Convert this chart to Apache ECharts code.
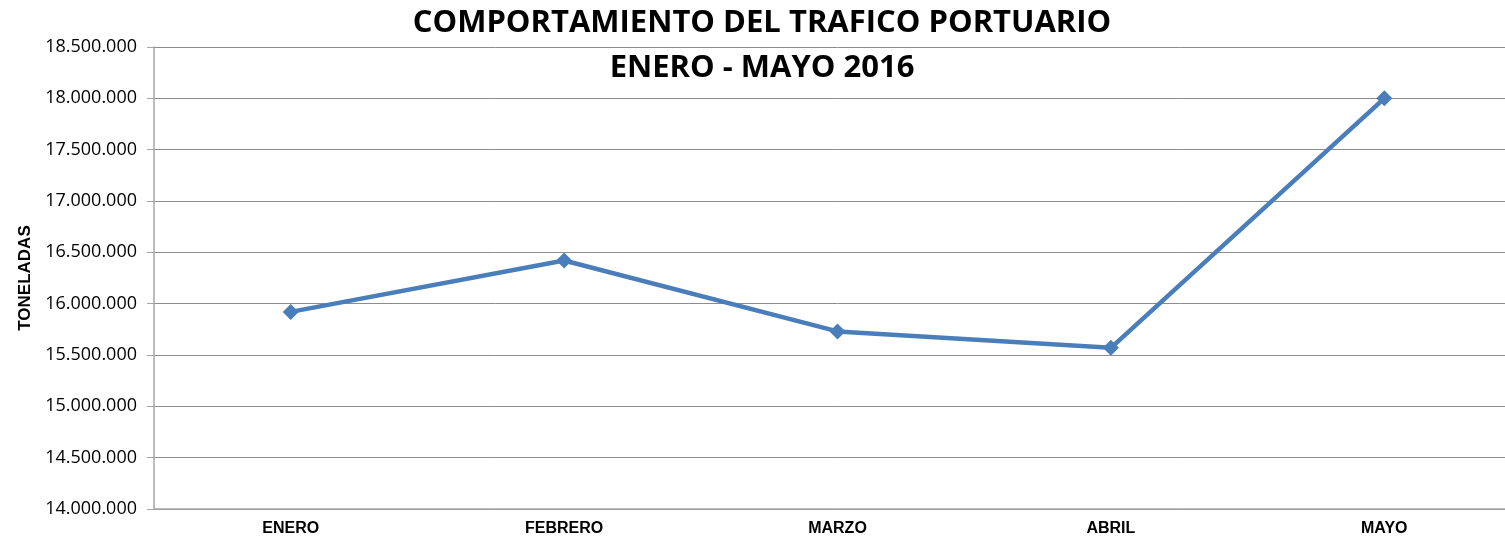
<!doctype html>
<html lang="es">
<head>
    <meta charset="UTF-8">
    <title>Trafico portuario</title>
    <style>
        *{margin: 0; padding: 0}
        body{background: #fff; overflow: hidden}
    </style>
</head>
<body>
<!-- el area del grafico sigue un poco mas alla del borde derecho, como en el original -->
<div id="block" style="width:1521px;height:540px"></div>
<script src="https://cdn.jsdelivr.net/npm/echarts@6/dist/echarts.min.js"></script>
<script>
    // datos
    const meses = ['ENERO', 'FEBRERO', 'MARZO', 'ABRIL', 'MAYO'];
    const toneladas = [15920000, 16420000, 15730000, 15570000, 18000000];

    const fmt = function(v) {
        return String(Math.round(v)).replace(/\B(?=(\d{3})+(?!\d))/g, '.');
    };

    const chart = echarts.init(document.getElementById('block'));
    chart.setOption({
        animation: false,
        title: {
            text: 'COMPORTAMIENTO DEL TRAFICO PORTUARIO\nENERO - MAYO 2016',
            left: 757, top: -4, textAlign: 'center',
            textStyle: {fontFamily: 'Open Sans', fontWeight: 'bold', fontSize: 31, lineHeight: 45, color: '#000'}
        },
        grid: {left: 154, top: 47, bottom: 31, right: 0},
        xAxis: {
            type: 'category',
            data: meses,
            axisLine: {lineStyle: {color: '#a6a6a6', width: 1.5}},
            axisTick: {show: false},
            axisLabel: {fontFamily: 'Liberation Sans', fontWeight: 'bold', fontSize: 16, color: '#000', margin: 12}
        },
        yAxis: {
            type: 'value',
            min: 14000000, max: 18500000, interval: 500000,
            name: 'TONELADAS', nameLocation: 'middle', nameGap: 118, nameRotate: 90,
            nameTextStyle: {fontFamily: 'Liberation Sans', fontWeight: 'bold', fontSize: 17, color: '#000'},
            axisLine: {show: true, lineStyle: {color: '#a6a6a6', width: 1.5}},
            axisTick: {show: true, length: 7, lineStyle: {color: '#a6a6a6'}},
            axisLabel: {formatter: fmt, fontFamily: 'Open Sans', fontSize: 18, color: '#000', margin: 17},
            splitLine: {lineStyle: {color: '#8c8c8c', width: 1}}
        },
        series: [{
            type: 'line',
            data: toneladas,
            symbol: 'diamond',
            symbolSize: 16,
            lineStyle: {color: '#4a7ebb', width: 4.5},
            itemStyle: {color: '#4a7ebb'}
        }]
    });
</script>
</body>
</html>
